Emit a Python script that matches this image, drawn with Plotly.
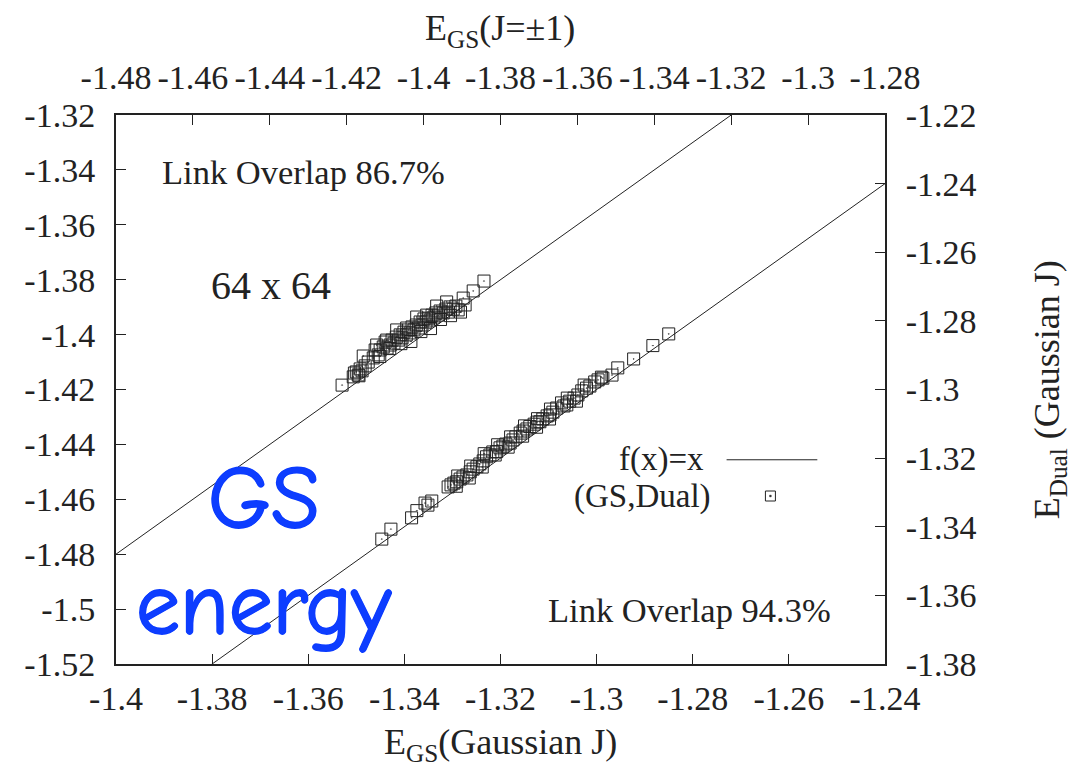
import plotly.graph_objects as go

# Gaussian-J samples: E_GS (bottom axis) vs E_Dual (right axis)
gauss_gs = [-1.3447, -1.3428, -1.3385, -1.3374, -1.3357, -1.3343, -1.3351,
            -1.3309, -1.3303, -1.3297, -1.3291, -1.3284, -1.3278, -1.3270, -1.3263,
            -1.3257, -1.3249, -1.3243, -1.3236, -1.3229, -1.3222, -1.3216, -1.3208,
            -1.3201, -1.3195, -1.3189, -1.3180, -1.3174, -1.3168, -1.3159, -1.3153,
            -1.3145, -1.3139, -1.3130, -1.3124, -1.3118, -1.3112, -1.3103, -1.3097,
            -1.3091, -1.3083, -1.3073, -1.3062, -1.3056, -1.3047, -1.3039, -1.3031,
            -1.3021, -1.3014, -1.3004, -1.2997, -1.2990, -1.2987, -1.2968, -1.2956,
            -1.2923, -1.2883, -1.2850,
            -1.3292, -1.3265, -1.3238, -1.3211, -1.3184, -1.3154, -1.3125, -1.3098,
            -1.3068, -1.3042, -1.3289, -1.3262, -1.3234, -1.3206, -1.3179, -1.3150,
            -1.3123, -1.3096, -1.3061, -1.3026]
gauss_dual = [-1.3436, -1.3407, -1.3374, -1.3353, -1.3331, -1.3325, -1.3337,
              -1.3284, -1.3278, -1.3273, -1.3269, -1.3261, -1.3255, -1.3249, -1.3240,
              -1.3232, -1.3225, -1.3217, -1.3208, -1.3196, -1.3191, -1.3182, -1.3181,
              -1.3170, -1.3165, -1.3159, -1.3156, -1.3147, -1.3138, -1.3127, -1.3121,
              -1.3115, -1.3108, -1.3101, -1.3095, -1.3094, -1.3086, -1.3077, -1.3074,
              -1.3066, -1.3054, -1.3039, -1.3045, -1.3034, -1.3025, -1.3016, -1.3004,
              -1.2996, -1.2990, -1.2978, -1.2972, -1.2964, -1.2967, -1.2958, -1.2937,
              -1.2911, -1.2872, -1.2838,
              -1.3282, -1.3258, -1.3226, -1.3191, -1.3168, -1.3136, -1.3110, -1.3086,
              -1.3048, -1.3034, -1.3252, -1.3223, -1.3187, -1.3161, -1.3138, -1.3106,
              -1.3085, -1.3057, -1.3025, -1.2987]

# J=±1 samples: E_GS (top axis) vs E_Dual (left axis)
pm_gs = [-1.4212, -1.4183, -1.4175, -1.4170, -1.4165, -1.4157, -1.4152, -1.4144,
         -1.4131, -1.4126, -1.4118, -1.4113, -1.4105, -1.4100, -1.4095, -1.4087,
         -1.4082, -1.4077, -1.4071, -1.4066, -1.4061, -1.4056, -1.4051, -1.4045,
         -1.4040, -1.4035, -1.4030, -1.4025, -1.4019, -1.4014, -1.4009, -1.4004,
         -1.3999, -1.3994, -1.3988, -1.3983, -1.3978, -1.3973, -1.3968, -1.3962,
         -1.3957, -1.3949, -1.3942, -1.3936, -1.3931, -1.3923, -1.3916, -1.3910,
         -1.3897, -1.3892, -1.3871, -1.3843,
         -1.4114, -1.4088, -1.4059, -1.4033, -1.4007, -1.3982, -1.3956, -1.3930,
         -1.3904, -1.4122, -1.4096, -1.4070, -1.4044, -1.4018, -1.3992, -1.3966,
         -1.3940, -1.4180, -1.4168, -1.4160]
pm_dual = [-1.4184, -1.4154, -1.4136, -1.4147, -1.4125, -1.4078, -1.4114, -1.4100,
           -1.4085, -1.4056, -1.4074, -1.4056, -1.4045, -1.4027, -1.4049, -1.4038,
           -1.4020, -1.4031, -1.4009, -1.4020, -1.4001, -1.4012, -1.3991, -1.4001,
           -1.3983, -1.3994, -1.3972, -1.3983, -1.3965, -1.3976, -1.3954, -1.3965,
           -1.3943, -1.3954, -1.3940, -1.3947, -1.3929, -1.3936, -1.3921, -1.3929,
           -1.3914, -1.3921, -1.3907, -1.3918, -1.3899, -1.3907, -1.3896, -1.3910,
           -1.3867, -1.3892, -1.3841, -1.3805,
           -1.4080, -1.4051, -1.4033, -1.4025, -1.3989, -1.3978, -1.3945, -1.3931,
           -1.3918, -1.4038, -1.4020, -1.3983, -1.3976, -1.3936, -1.3929, -1.3896,
           -1.3881, -1.4140, -1.4150, -1.4132]

# reference diagonals f(x)=x for each axis pair
diag_gauss = [-1.40, -1.24]
diag_pm = [-1.48, -1.28]

bottom_ticks = [-1.40, -1.38, -1.36, -1.34, -1.32, -1.30, -1.28, -1.26, -1.24]
bottom_labels = ["-1.4", "-1.38", "-1.36", "-1.34", "-1.32", "-1.3", "-1.28", "-1.26", "-1.24"]
top_ticks = [-1.48, -1.46, -1.44, -1.42, -1.40, -1.38, -1.36, -1.34, -1.32, -1.30, -1.28]
top_labels = ["-1.48", "-1.46", "-1.44", "-1.42", "-1.4", "-1.38", "-1.36", "-1.34", "-1.32", "-1.3", "-1.28"]
left_ticks = [-1.52, -1.50, -1.48, -1.46, -1.44, -1.42, -1.40, -1.38, -1.36, -1.34, -1.32]
left_labels = ["-1.52", "-1.5", "-1.48", "-1.46", "-1.44", "-1.42", "-1.4", "-1.38", "-1.36", "-1.34", "-1.32"]
right_ticks = [-1.38, -1.36, -1.34, -1.32, -1.30, -1.28, -1.26, -1.24, -1.22]
right_labels = ["-1.38", "-1.36", "-1.34", "-1.32", "-1.3", "-1.28", "-1.26", "-1.24", "-1.22"]

SERIF = "Liberation Serif, Times New Roman, serif"
INK = "#222222"
BLUE = "#0d3dff"

marker_style = dict(symbol="square-open-dot", size=12, color=INK, line=dict(width=1, color=INK))

fig = go.Figure()
# main pair: bottom x (Gaussian E_GS) with right y (Gaussian E_Dual)
fig.add_trace(go.Scatter(x=diag_gauss, y=diag_gauss, xaxis="x", yaxis="y", mode="lines",
                         line=dict(color=INK, width=1), hoverinfo="skip"))
fig.add_trace(go.Scatter(x=gauss_gs, y=gauss_dual, xaxis="x", yaxis="y", mode="markers",
                         marker=marker_style))
# overlay pair: top x (J=±1 E_GS) with left y
fig.add_trace(go.Scatter(x=diag_pm, y=diag_pm, xaxis="x2", yaxis="y2", mode="lines",
                         line=dict(color=INK, width=1), hoverinfo="skip"))
fig.add_trace(go.Scatter(x=pm_gs, y=pm_dual, xaxis="x2", yaxis="y2", mode="markers",
                         marker=marker_style))

axis_common = dict(showgrid=False, zeroline=False, showline=True, linecolor=INK, linewidth=2,
                   ticks="inside", ticklen=10, tickwidth=1, tickcolor=INK,
                   tickfont=dict(family=SERIF, size=34, color=INK))

fig.update_layout(
    width=1090, height=768,
    margin=dict(l=115.5, r=204.5, t=115, b=104),
    paper_bgcolor="white", plot_bgcolor="white",
    showlegend=False,
    xaxis=dict(range=[-1.40, -1.24], tickvals=bottom_ticks, ticktext=bottom_labels,
               anchor="y", side="bottom", ticklabelstandoff=3, **axis_common),
    xaxis2=dict(range=[-1.48, -1.28], tickvals=top_ticks, ticktext=top_labels,
                anchor="y2", side="top", overlaying="x", ticklabelstandoff=10, **axis_common),
    yaxis=dict(range=[-1.38, -1.22], tickvals=right_ticks, ticktext=right_labels,
               anchor="x", side="right", ticklabelstandoff=12, **axis_common),
    yaxis2=dict(range=[-1.52, -1.32], tickvals=left_ticks, ticktext=left_labels,
                anchor="x2", side="left", overlaying="y", ticklabelstandoff=12, **axis_common),
)

def note(text, x, y, size, color=INK, family=SERIF, xanchor="center", angle=0, shadow=None):
    font = dict(family=family, size=size, color=color)
    if shadow:
        font["shadow"] = shadow
    fig.add_annotation(text=text, x=x, y=y, xref="paper", yref="paper", showarrow=False,
                       xanchor=xanchor, yanchor="middle", textangle=angle, font=font)

# axis titles
note("E<sub>GS</sub>(Gaussian J)", 0.4994, -0.1475, 36)
note("E<sub>GS</sub>(J=±1)", 0.4994, 1.1548, 36)
note("E<sub>Dual</sub> (Gaussian J)", 1.2136, 0.499, 36, angle=-90)

# in-plot labels
note("Link Overlap 86.7%", 0.2435, 0.896, 34.5)
note("64 x 64", 0.202, 0.690, 40)
note("Link Overlap 94.3%", 0.746, 0.098, 34.5)
HAND = "Comic Sans MS, Comic Neue, DejaVu Sans, sans-serif"
thick = f"1px 0 0 {BLUE}, -1px 0 0 {BLUE}, 0 1px 0 {BLUE}, 0 -1px 0 {BLUE}"
note("GS", 0.193, 0.300, 88, color=BLUE, family=HAND, shadow=thick)
note("energy", 0.193, 0.107, 88, color=BLUE, family=HAND, shadow=thick)

# key
note("f(x)=x", (706 - 115.5) / 770, 0.372, 33, xanchor="right")
note("(GS,Dual)", (713 - 115.5) / 770, 0.306, 33, xanchor="right")
fig.add_shape(type="line", xref="paper", yref="paper", x0=0.794, x1=0.912, y0=0.372, y1=0.372,
              line=dict(color=INK, width=1))
fig.add_shape(type="rect", xref="paper", yref="paper", xsizemode="pixel", ysizemode="pixel",
              xanchor=0.851, yanchor=0.306, x0=-5, x1=5, y0=-5, y1=5,
              line=dict(color=INK, width=1))
fig.add_shape(type="rect", xref="paper", yref="paper", xsizemode="pixel", ysizemode="pixel",
              xanchor=0.851, yanchor=0.306, x0=-0.8, x1=0.8, y0=-0.8, y1=0.8,
              line=dict(color=INK, width=0.5), fillcolor=INK)

fig.write_html("out.html")
